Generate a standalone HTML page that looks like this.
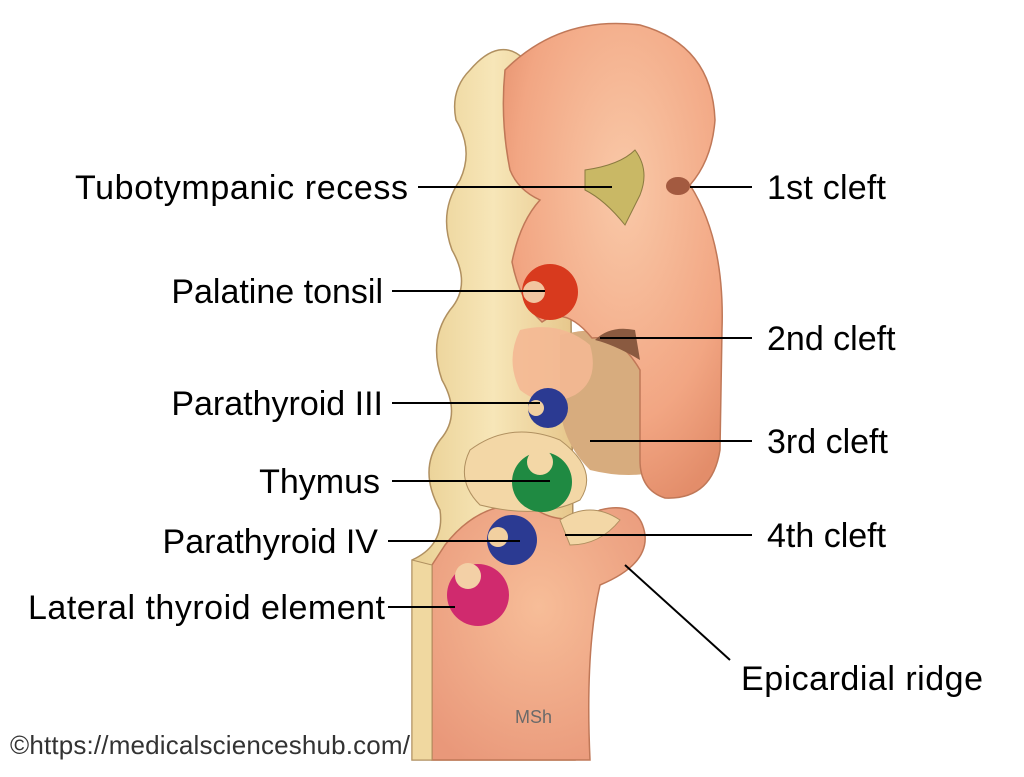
<!DOCTYPE html>
<html><head><meta charset="utf-8"><style>
html,body{margin:0;padding:0;background:#fff;}
svg{display:block;}
text{font-family:"Liberation Sans",Arial,sans-serif;}
</style></head><body>
<svg width="1024" height="777" viewBox="0 0 1024 777" xmlns="http://www.w3.org/2000/svg">
<defs>
<radialGradient id="sal" cx="0.55" cy="0.35" r="0.7">
<stop offset="0" stop-color="#f9c9a8"/><stop offset="0.7" stop-color="#f2a683"/><stop offset="1" stop-color="#e38d6a"/>
</radialGradient>
<radialGradient id="sal2" cx="0.5" cy="0.4" r="0.7">
<stop offset="0" stop-color="#f7bd98"/><stop offset="1" stop-color="#e9987a"/>
</radialGradient>
<linearGradient id="tan" x1="0" x2="1">
<stop offset="0" stop-color="#e9cf92"/><stop offset="0.5" stop-color="#f7e6b8"/><stop offset="1" stop-color="#e6c68a"/>
</linearGradient>
</defs>
<path d="M470,70 Q500,35 525,60 L570,200 L575,760 L412,760 L412,560 Q445,545 440,510 Q418,470 440,440 Q462,415 442,380 Q428,340 450,310 Q472,285 452,250 Q438,212 460,180 Q474,150 456,120 Q450,90 470,70 Z" fill="url(#tan)" stroke="#b09060" stroke-width="1.5"/>
<path d="M445,545 Q480,500 530,505 Q560,530 600,510 Q640,500 645,535 Q648,565 600,585 Q585,650 590,760 L432,760 L432,565 Z" fill="url(#sal2)" stroke="#c07858" stroke-width="1.5"/>
<path d="M412,560 L432,565 L432,760 L412,760 Z" fill="#f0d8a0" stroke="#b09060"/>
<path d="M560,335 Q620,320 660,350 L665,470 Q630,480 590,470 Q560,440 560,400 Z" fill="#d7ac7e"/>
<path d="M470,450 Q510,420 560,440 Q600,470 580,500 Q540,520 480,505 Q455,480 470,450 Z" fill="#f3d7a6" stroke="#b09060"/>
<path d="M505,70 Q560,15 640,25 Q712,45 715,120 Q712,160 690,185 Q725,240 722,330 L720,450 Q712,500 665,498 Q640,490 640,460 L640,370 Q620,335 592,338 Q565,305 542,322 Q520,302 512,262 Q520,222 540,200 Q518,190 510,170 Q500,120 505,70 Z" fill="url(#sal)" stroke="#c07858" stroke-width="1.5"/>
<path d="M520,330 Q560,320 590,345 Q600,380 575,395 Q545,410 520,390 Q505,360 520,330 Z" fill="#f4b894" opacity="0.9"/>
<path d="M585,170 Q620,165 635,150 Q650,170 640,195 Q630,215 625,225 Q605,200 585,190 Z" fill="#c9b865" stroke="#8a7a40"/>
<ellipse cx="678" cy="186" rx="12" ry="9" fill="#a35a40"/>
<path d="M595,340 Q610,325 635,330 L640,360 Q615,345 595,340 Z" fill="#8a5a40"/>
<path d="M560,520 Q590,500 620,520 Q600,545 570,545 Z" fill="#f3d7a6" stroke="#b09060"/>
<circle cx="550" cy="292" r="28" fill="#d83a1e"/>
<circle cx="534" cy="292" r="11" fill="#f2c5a0"/>
<circle cx="548" cy="408" r="20" fill="#2b3a92"/>
<circle cx="536" cy="408" r="8" fill="#f2d0a0"/>
<circle cx="542" cy="482" r="30" fill="#1f8a42"/>
<circle cx="540" cy="462" r="13" fill="#f3d7a6"/>
<circle cx="512" cy="540" r="25" fill="#2b3a92"/>
<circle cx="498" cy="537" r="10" fill="#f2d0a0"/>
<circle cx="478" cy="595" r="31" fill="#d02a6e"/>
<circle cx="468" cy="576" r="13" fill="#f3d0a6"/>
<g stroke="#000" stroke-width="2">
<line x1="418" y1="187" x2="612" y2="187"/>
<line x1="690" y1="187" x2="752" y2="187"/>
<line x1="392" y1="291" x2="545" y2="291"/>
<line x1="600" y1="338" x2="752" y2="338"/>
<line x1="392" y1="403" x2="540" y2="403"/>
<line x1="590" y1="441" x2="752" y2="441"/>
<line x1="392" y1="481" x2="550" y2="481"/>
<line x1="565" y1="535" x2="752" y2="535"/>
<line x1="388" y1="541" x2="520" y2="541"/>
<line x1="388" y1="607" x2="455" y2="607"/>
<line x1="625" y1="565" x2="730" y2="660"/>
</g>
<g font-size="34" fill="#000">
<text x="408" y="199" text-anchor="end" textLength="333">Tubotympanic recess</text>
<text x="767" y="199" textLength="119">1st cleft</text>
<text x="383" y="303" text-anchor="end">Palatine tonsil</text>
<text x="767" y="350">2nd cleft</text>
<text x="383" y="415" text-anchor="end">Parathyroid III</text>
<text x="767" y="453">3rd cleft</text>
<text x="380" y="493" text-anchor="end">Thymus</text>
<text x="767" y="547">4th cleft</text>
<text x="378" y="553" text-anchor="end">Parathyroid IV</text>
<text x="385" y="619" text-anchor="end" textLength="357">Lateral thyroid element</text>
<text x="741" y="690" textLength="242">Epicardial ridge</text>
</g>
<text x="515" y="723" font-size="18" fill="#6a6a6a">MSh</text>
<text x="10" y="754" font-size="26" fill="#333" textLength="400">©https://medicalscienceshub.com/</text>
</svg>
</body></html>
